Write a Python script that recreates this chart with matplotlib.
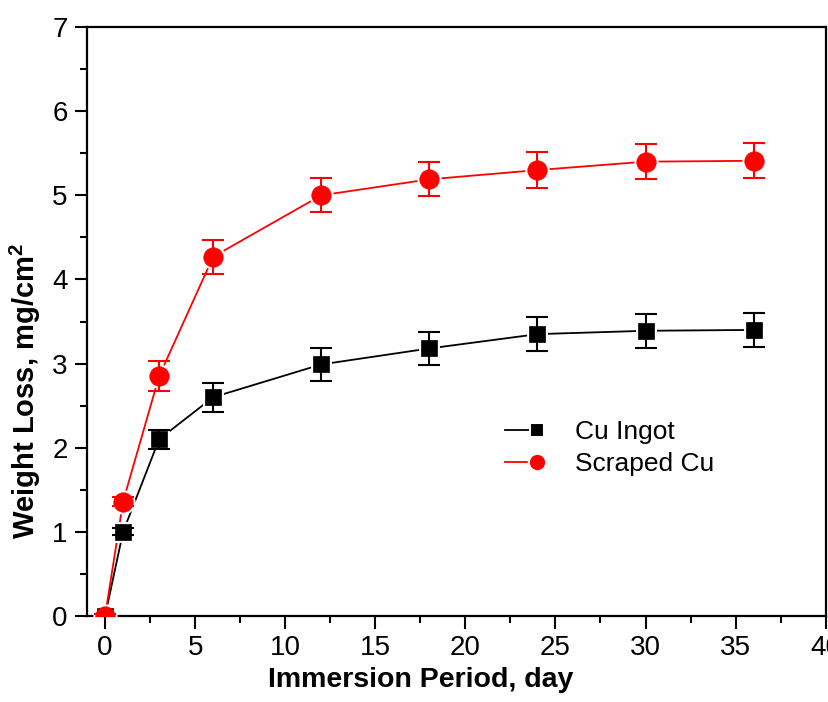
import matplotlib.pyplot as plt
from matplotlib.legend_handler import HandlerLine2DCompound
from matplotlib.lines import Line2D
from matplotlib.ticker import MultipleLocator

plt.rcParams['font.family'] = ['Liberation Sans', 'DejaVu Sans']

# data
days = [0, 1, 3, 6, 12, 18, 24, 30, 36]
ingot = [0, 1.0, 2.1, 2.6, 2.99, 3.18, 3.35, 3.39, 3.40]
ingot_err = [0.02, 0.04, 0.11, 0.17, 0.2, 0.2, 0.2, 0.2, 0.2]
scraped = [0, 1.36, 2.85, 4.27, 5.0, 5.19, 5.30, 5.40, 5.41]
scraped_err = [0.02, 0.05, 0.18, 0.2, 0.2, 0.2, 0.21, 0.21, 0.21]


class HandlerMarkerRight(HandlerLine2DCompound):
    # line on the left, marker at the right end (Origin style)
    def get_xdata(self, legend, xdescent, ydescent, width, height, fontsize):
        xdata = [-xdescent, width - xdescent]
        return xdata, [width - xdescent]


fig = plt.figure(figsize=(8.29, 7.02), dpi=100)
ax = fig.add_axes([0.105, 0.1225, 0.891, 0.839])

series = [
    (ingot, ingot_err, 'black', 's', 12, 10.5, 'Cu Ingot'),
    (scraped, scraped_err, 'red', 'o', 14, 12.5, 'Scraped Cu'),
]
handles = []
for vals, err, col, mk, ms, ms_leg, lab in series:
    ax.plot(days, vals, color=col, lw=1.3, zorder=2)
    # white ring leaves a small gap between line and marker
    ax.plot(days, vals, ls='none', marker=mk, ms=ms, mfc=col, mec='white',
            mew=3.5, zorder=3)
    ax.errorbar(days, vals, yerr=err, fmt='none', ecolor=col, elinewidth=1.5,
                capsize=8, capthick=1.5, zorder=4)
    ax.plot(days, vals, ls='none', marker=mk, ms=ms, mfc=col, mec=col,
            mew=0.5, zorder=5)
    handles.append(Line2D([], [], color=col, lw=1.3, marker=mk, ms=ms_leg,
                          mfc=col, mec='white', mew=1.5, label=lab))

ax.set_xlim(-1, 40)
ax.set_ylim(0, 7)
ax.xaxis.set_major_locator(MultipleLocator(5))
ax.xaxis.set_minor_locator(MultipleLocator(2.5))
ax.yaxis.set_major_locator(MultipleLocator(1))
ax.yaxis.set_minor_locator(MultipleLocator(0.5))

for s in ax.spines.values():
    s.set_linewidth(1.6)
ax.tick_params(which='both', direction='out', width=1.5, labelsize=20,
               top=False, right=False)
ax.tick_params(which='major', length=9, pad=5)
ax.tick_params(which='minor', length=5)

ax.set_xlabel('Immersion Period, day', fontsize=20.5, fontweight='bold')
ax.set_ylabel('Weight Loss, mg/cm$^\\mathregular{2}$', fontsize=21,
              fontweight='bold')
ax.xaxis.set_label_coords(0.452, -0.087)
ax.yaxis.set_label_coords(-0.060, 0.382)

ax.legend(handles=handles, loc='upper left', bbox_to_anchor=(0.566, 0.333),
          frameon=False, fontsize=19, borderpad=0, borderaxespad=0,
          handlelength=1.2, handletextpad=1.45, labelspacing=0.3,
          handler_map={Line2D: HandlerMarkerRight(numpoints=1)})

fig.savefig('out.png', dpi=100)
